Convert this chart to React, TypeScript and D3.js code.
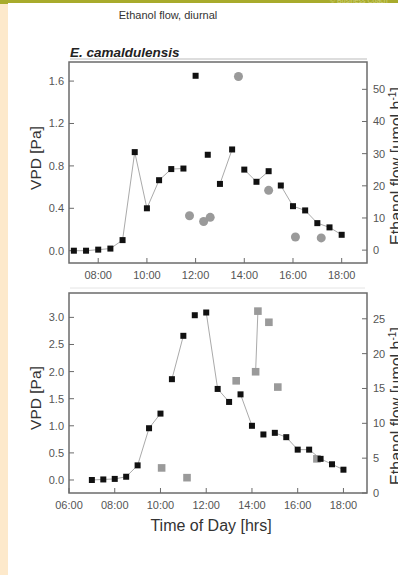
import React, { useEffect, useRef } from 'react';
import * as d3 from 'd3';

// half-hourly VPD readings, both panels
const hours = [7, 7.5, 8, 8.5, 9, 9.5, 10, 10.5, 11, 11.5, 12, 12.5, 13, 13.5, 14, 14.5, 15, 15.5, 16, 16.5, 17, 17.5, 18];

const vpdTop = [0, 0, 0.01, 0.02, 0.1, 0.93, 0.4, 0.665, 0.77, 0.775, 1.65, 0.905, 0.63, 0.955, 0.765, 0.65, 0.75, 0.615, 0.42, 0.38, 0.26, 0.22, 0.15];
const segTop = [1, 1, 1, 1, 1, 1, 1, 1, 1, 1, 2, 3, 4, 4, 5, 5, 5, 6, 6, 6, 6, 6, 6];
const flowHoursTop = [11.75, 12.33, 12.6, 13.76, 15.0, 16.1, 17.16];
const flowTop = [10.7, 8.9, 10.2, 54.0, 18.6, 4.1, 3.8];

const vpdBot = [0, 0.01, 0.02, 0.06, 0.27, 0.955, 1.225, 1.86, 2.66, 3.04, 3.09, 1.68, 1.44, 1.58, 1.0, 0.84, 0.87, 0.79, 0.56, 0.56, 0.39, 0.29, 0.19];
const segBot = [1, 1, 1, 1, 1, 1, 1, 2, 2, 3, 4, 4, 4, 5, 5, 6, 7, 7, 7, 7, 7, 7, 7];
const flowHoursBot = [10.05, 11.16, 13.31, 14.16, 14.26, 14.74, 15.13, 16.84];
const flowBot = [3.6, 2.2, 16.1, 17.4, 26.1, 24.5, 15.2, 4.9];
const segFlowBot = [1, 2, 3, 4, 4, 5, 6, 7];

const ticksTopL = [0, 0.4, 0.8, 1.2, 1.6];
const ticksTopR = [0, 10, 20, 30, 40, 50];
const ticksTopX = [8, 10, 12, 14, 16, 18];
const ticksBotL = [0, 0.5, 1, 1.5, 2, 2.5, 3];
const ticksBotR = [0, 5, 10, 15, 20, 25];
const ticksBotX = [6, 8, 10, 12, 14, 16, 18];

const W = 398, H = 575;
const FONT = 'Liberation Sans, Arial, sans-serif';
const hh = (h: number) => `${String(Math.floor(h)).padStart(2, '0')}:00`;

export default function App() {
  const svgRef = useRef<SVGSVGElement>(null);

  useEffect(() => {
    if (!svgRef.current) return;
    const svg = d3.select(svgRef.current);
    svg.selectAll('*').remove();

    // slide background
    svg.append('rect').attr('width', W).attr('height', H).attr('fill', '#fff');
    svg.append('rect').attr('x', 0).attr('y', 0).attr('width', 8).attr('height', H).attr('fill', '#fde9cb');
    svg.append('rect').attr('x', 0).attr('y', 0).attr('width', W).attr('height', 3).attr('fill', '#a8ab2c');
    svg.append('rect').attr('x', 0).attr('y', 0).attr('width', 8).attr('height', 4).attr('fill', '#a8ab2c');
    svg.append('text').attr('x', 330).attr('y', 3).text('© Business Coach')
      .style('font-family', FONT).style('font-size', '7px').style('fill', '#cfd27a');

    svg.append('text').attr('x', 168).attr('y', 19).attr('text-anchor', 'middle')
      .text('Ethanol flow, diurnal')
      .style('font-family', FONT).style('font-size', '11px').style('fill', '#333');

    const panel = (cfg: {
      top: number; bottom: number; xDom: [number, number]; yLDom: [number, number]; yRDom: [number, number];
      vpd: number[]; seg: number[]; fh: number[]; fv: number[]; fseg: number[] | null; circles: boolean;
      tL: number[]; tR: number[]; tX: number[]; fmtL: (v: number) => string; showXTitle: boolean; midY: number;
    }) => {
      const left = 69, right = 367;
      const x = d3.scaleLinear().domain(cfg.xDom).range([left, right]);
      const yL = d3.scaleLinear().domain(cfg.yLDom).range([cfg.bottom, cfg.top]);
      const yR = d3.scaleLinear().domain(cfg.yRDom).range([cfg.bottom, cfg.top]);
      const g = svg.append('g');

      g.append('rect').attr('x', left).attr('y', cfg.top).attr('width', right - left).attr('height', cfg.bottom - cfg.top)
        .attr('fill', 'none').attr('stroke', '#6b6b6b').attr('stroke-width', 1.5);

      const lab = { family: FONT, size: '11px', fill: '#555' };
      cfg.tL.forEach(t => {
        g.append('line').attr('x1', left).attr('x2', left + 5).attr('y1', yL(t)).attr('y2', yL(t)).attr('stroke', '#6b6b6b');
        g.append('text').attr('x', 64).attr('y', yL(t) + 4).attr('text-anchor', 'end').text(cfg.fmtL(t))
          .style('font-family', lab.family).style('font-size', lab.size).style('fill', lab.fill);
      });
      cfg.tR.forEach(t => {
        g.append('line').attr('x1', right - 5).attr('x2', right).attr('y1', yR(t)).attr('y2', yR(t)).attr('stroke', '#6b6b6b');
        g.append('text').attr('x', 373).attr('y', yR(t) + 4).text(String(t))
          .style('font-family', lab.family).style('font-size', lab.size).style('fill', lab.fill);
      });
      cfg.tX.forEach(t => {
        g.append('line').attr('x1', x(t)).attr('x2', x(t)).attr('y1', cfg.bottom - 5).attr('y2', cfg.bottom).attr('stroke', '#6b6b6b');
        g.append('text').attr('x', x(t)).attr('y', cfg.bottom + 16).attr('text-anchor', 'middle').text(hh(t))
          .style('font-family', lab.family).style('font-size', lab.size).style('fill', lab.fill);
      });

      // connecting lines per segment
      const line = d3.line<[number, number]>().x(d => x(d[0])).y(d => d[1]);
      d3.groups(hours.map((h, i) => ({ h, v: cfg.vpd[i], s: cfg.seg[i] })), d => d.s).forEach(([, pts]) => {
        if (pts.length < 2) return;
        g.append('path').attr('d', line(pts.map(p => [p.h, yL(p.v)]))).attr('fill', 'none').attr('stroke', '#aaa').attr('stroke-width', 1);
      });
      if (cfg.fseg) {
        d3.groups(cfg.fh.map((h, i) => ({ h, v: cfg.fv[i], s: cfg.fseg![i] })), d => d.s).forEach(([, pts]) => {
          if (pts.length < 2) return;
          g.append('path').attr('d', line(pts.map(p => [p.h, yR(p.v)]))).attr('fill', 'none').attr('stroke', '#aaa').attr('stroke-width', 1);
        });
      }

      // ethanol flow (gray)
      if (cfg.circles) {
        g.selectAll('circle.f').data(cfg.fh).join('circle')
          .attr('cx', d => x(d)).attr('cy', (d, i) => yR(cfg.fv[i])).attr('r', 4.5).attr('fill', '#9a9a9a');
      } else {
        g.selectAll('rect.f').data(cfg.fh).join('rect')
          .attr('x', d => x(d) - 3.8).attr('y', (d, i) => yR(cfg.fv[i]) - 3.8).attr('width', 7.6).attr('height', 7.6).attr('fill', '#9a9a9a');
      }

      // VPD (black squares)
      g.selectAll('rect.v').data(hours).join('rect')
        .attr('x', d => x(d) - 3).attr('y', (d, i) => yL(cfg.vpd[i]) - 3).attr('width', 6).attr('height', 6).attr('fill', '#111');

      g.append('text').attr('transform', `translate(41,${cfg.midY}) rotate(-90)`).attr('text-anchor', 'middle')
        .text('VPD [Pa]').style('font-family', FONT).style('font-size', '15.5px').style('fill', '#333');
      const rt = g.append('text').attr('transform', `translate(402,${cfg.midY + 8}) rotate(-90)`).attr('text-anchor', 'middle')
        .style('font-family', FONT).style('font-size', '16px').style('fill', '#333');
      rt.append('tspan').text('Ethanol flow [µmol h');
      rt.append('tspan').attr('dy', -6).style('font-size', '10px').text('-1');
      rt.append('tspan').attr('dy', 6).text(']');
      if (cfg.showXTitle) {
        g.append('text').attr('x', 211).attr('y', cfg.bottom + 38).attr('text-anchor', 'middle')
          .text('Time of Day [hrs]').style('font-family', FONT).style('font-size', '16px').style('fill', '#333');
      }
    };

    // species title
    svg.append('text').attr('x', 70).attr('y', 57).text('E. camaldulensis')
      .style('font-family', FONT).style('font-size', '13.5px').style('font-weight', 'bold').style('font-style', 'italic').style('fill', '#222');
    svg.append('line').attr('x1', 70).attr('x2', 367).attr('y1', 59).attr('y2', 59).attr('stroke', '#bbb');
    svg.append('line').attr('x1', 70).attr('x2', 365).attr('y1', 288).attr('y2', 288).attr('stroke', '#e4e4e4');

    panel({
      top: 62, bottom: 263, xDom: [6.8, 19.04], yLDom: [-0.116, 1.78], yRDom: [-4, 58.5],
      vpd: vpdTop, seg: segTop, fh: flowHoursTop, fv: flowTop, fseg: null, circles: true,
      tL: ticksTopL, tR: ticksTopR, tX: ticksTopX, fmtL: d3.format('.1f'), showXTitle: false, midY: 158,
    });
    panel({
      top: 293, bottom: 493, xDom: [6, 19.03], yLDom: [-0.24, 3.45], yRDom: [0, 28.7],
      vpd: vpdBot, seg: segBot, fh: flowHoursBot, fv: flowBot, fseg: segFlowBot, circles: false,
      tL: ticksBotL, tR: ticksBotR, tX: ticksBotX, fmtL: d3.format('.1f'), showXTitle: true, midY: 398,
    });
  }, []);

  return (
    <div style={{ position: 'absolute', left: 0, top: 0, width: W, height: H, overflow: 'hidden' }}>
      <svg ref={svgRef} width={W} height={H} style={{ display: 'block' }}></svg>
    </div>
  );
}
